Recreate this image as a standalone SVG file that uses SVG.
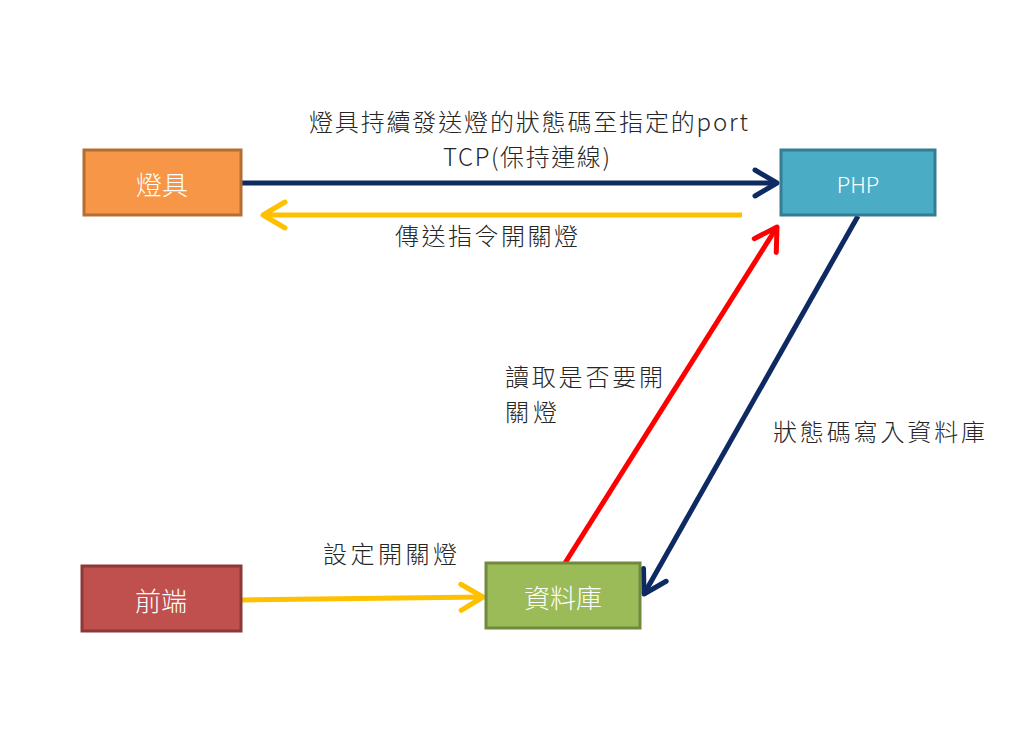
<svg xmlns="http://www.w3.org/2000/svg" width="1024" height="747" viewBox="0 0 1024 747">
<style>
.lbl{font-family:"Noto Sans CJK TC","Liberation Sans",sans-serif;font-size:24px;font-weight:300;fill:#262626}
.nt{font-family:"Noto Sans CJK TC","Liberation Sans",sans-serif;font-size:26px;font-weight:300;fill:#ffffff;text-anchor:middle;dominant-baseline:central}
.box{stroke-width:3}
.ln{fill:none;stroke-width:5}
</style>
<defs>
<marker id="aN" markerUnits="userSpaceOnUse" markerWidth="40" markerHeight="40" viewBox="-30 -20 40 40" refX="0" refY="0" orient="auto" overflow="visible"><path d="M-22,-13 L0,0 L-22,13" fill="none" stroke="#0E2A63" stroke-width="5" stroke-linecap="round" stroke-linejoin="round"/></marker>
<marker id="aY" markerUnits="userSpaceOnUse" markerWidth="40" markerHeight="40" viewBox="-30 -20 40 40" refX="0" refY="0" orient="auto" overflow="visible"><path d="M-22,-13 L0,0 L-22,13" fill="none" stroke="#FFC000" stroke-width="5" stroke-linecap="round" stroke-linejoin="round"/></marker>
<marker id="aR" markerUnits="userSpaceOnUse" markerWidth="40" markerHeight="40" viewBox="-30 -20 40 40" refX="0" refY="0" orient="auto" overflow="visible"><path d="M-22,-13 L0,0 L-22,13" fill="none" stroke="#FF0000" stroke-width="5" stroke-linecap="round" stroke-linejoin="round"/></marker>
</defs>
<rect width="1024" height="747" fill="#ffffff"/>
<g id="connectors">
<line class="ln" x1="242" y1="183" x2="777" y2="183" stroke="#0E2A63" marker-end="url(#aN)"/>
<line class="ln" x1="742" y1="215" x2="263" y2="215" stroke="#FFC000" marker-end="url(#aY)"/>
<line class="ln" x1="565" y1="563" x2="777" y2="227" stroke="#FF0000" marker-end="url(#aR)"/>
<line class="ln" x1="858" y1="216" x2="644" y2="594" stroke="#0E2A63" marker-end="url(#aN)"/>
<line class="ln" x1="242" y1="600" x2="483" y2="597" stroke="#FFC000" marker-end="url(#aY)"/>
<text class="lbl" x="309" y="131" textLength="439" lengthAdjust="spacing">燈具持續發送燈的狀態碼至指定的port</text>
<text class="lbl" x="443" y="166" textLength="167" lengthAdjust="spacing">TCP(保持連線)</text>
<text class="lbl" x="395" y="245" textLength="183" lengthAdjust="spacing">傳送指令開關燈</text>
<text class="lbl" x="505" y="386" textLength="158" lengthAdjust="spacing">讀取是否要開</text>
<text class="lbl" x="505" y="421" textLength="52" lengthAdjust="spacing">關燈</text>
<text class="lbl" x="773" y="441" textLength="212" lengthAdjust="spacing">狀態碼寫入資料庫</text>
<text class="lbl" x="323" y="563" textLength="134" lengthAdjust="spacing">設定開關燈</text>
</g>
<g id="node-lamp">
<rect class="box" x="84" y="150" width="157" height="65" fill="#F79646" stroke="#B66D31"/>
<text class="nt" x="162" y="183">燈具</text>
</g>
<g id="node-php">
<rect class="box" x="781" y="150" width="154" height="65" fill="#4BACC6" stroke="#357D91"/>
<text class="nt" x="858" y="183" style="font-size:22px">PHP</text>
</g>
<g id="node-frontend">
<rect class="box" x="82" y="566" width="159" height="65" fill="#C0504D" stroke="#8C3836"/>
<text class="nt" x="161" y="599">前端</text>
</g>
<g id="node-db">
<rect class="box" x="486" y="563" width="154" height="65" fill="#9BBB59" stroke="#71893F"/>
<text class="nt" x="563" y="596">資料庫</text>
</g>
</svg>
